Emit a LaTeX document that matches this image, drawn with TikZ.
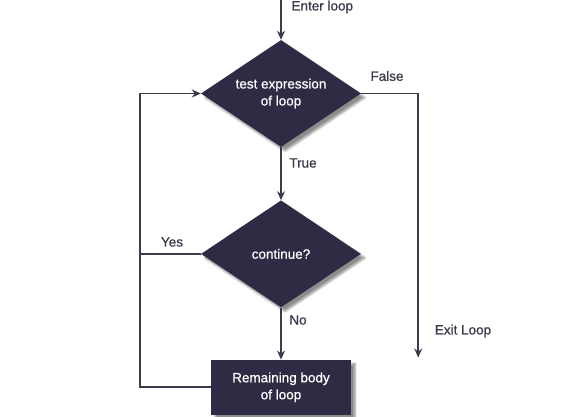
\documentclass[tikz,border=0pt]{standalone}
\usepackage{fontspec}
\setmainfont{Liberation Sans}[FakeBold=0.8]
\usetikzlibrary{positioning, arrows.meta, shapes.geometric, shadows.blur}
\definecolor{boxfill}{HTML}{2D2C44}
\definecolor{linecol}{HTML}{3B3B4B}
\tikzset{
  shape base/.style={fill=boxfill, text=white, align=center, font=\fontsize{13.5}{17}\selectfont, inner sep=0pt,
    blur shadow={shadow xshift=4pt, shadow yshift=-4pt, shadow blur steps=6, shadow opacity=45}},
  decision/.style={shape base, diamond, aspect=1.5, minimum width=160pt, minimum height=107pt},
  block/.style={shape base, rectangle, minimum width=140pt, minimum height=55pt},
  lbl/.style={font=\fontsize{13.5}{16}\selectfont, text=linecol},
  arr/.style={-{Stealth[length=9pt, width=8pt]}, line width=1.7pt, draw=linecol},
  ln/.style={line width=1.7pt, draw=linecol}
}
\begin{document}
\begin{tikzpicture}[x=1pt, y=1pt]
\useasboundingbox (0,0) rectangle (580,416);
\node[decision] (test) at (281,322.5) {test expression\\of loop};
\node[decision, below=53pt of test] (cont) {continue?};
\node[block, below=52pt of cont] (body) {Remaining body\\of loop};
% free ends
\coordinate (enter) at (281,416);
\coordinate[right=57pt of test.east] (fcorner);
\coordinate[below=264pt of fcorner] (exitend);
\coordinate[left=61pt of test.west] (lcorner);
% connectors
\draw[arr] (enter) -- (test.north);
\draw[arr] (test.south) -- (cont.north);
\draw[arr] (cont.south) -- (body.north);
\draw[arr] (test.east) -- (fcorner) -- (exitend);
\draw[ln] (cont.west) -- (cont.west -| lcorner);
\draw[arr] (body.west) -| (lcorner) -- (test.west);
% labels
\node[lbl, anchor=west] (lenter) at (288,409) {Enter loop};
\node[lbl] (lfalse) at (387,340) {False};
\node[lbl] (ltrue) at (303,253) {True};
\node[lbl] (lyes) at (172,174) {Yes};
\node[lbl] (lno) at (298,96) {No};
\node[lbl] (lexit) at (463,85) {Exit Loop};
\end{tikzpicture}
\end{document}
